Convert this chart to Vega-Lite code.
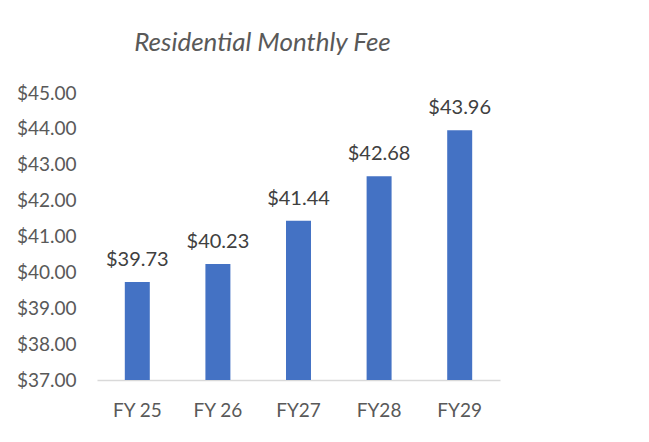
{
  "$schema": "https://vega.github.io/schema/vega-lite/v6.json",
  "autosize": {"type": "none"},
  "width": 403,
  "height": 287,
  "padding": {"left": 97, "top": 93, "right": 149, "bottom": 62},
  "background": "white",
  "config": {
    "font": "Lato",
    "view": {"stroke": null}
  },
  "title": {
    "text": "Residential Monthly Fee",
    "font": "Lato",
    "fontStyle": "italic",
    "fontWeight": "normal",
    "fontSize": 26,
    "color": "#595959",
    "anchor": "middle",
    "dx": -36,
    "offset": 28
  },
  "data": {
    "values": [
      {"year": "FY 25", "fee": 39.73},
      {"year": "FY 26", "fee": 40.23},
      {"year": "FY27", "fee": 41.44},
      {"year": "FY28", "fee": 42.68},
      {"year": "FY29", "fee": 43.96}
    ]
  },
  "encoding": {
    "x": {
      "field": "year",
      "type": "nominal",
      "sort": null,
      "scale": {"paddingInner": 0.69, "paddingOuter": 0.345},
      "axis": {
        "title": null,
        "labelAngle": 0,
        "labelFont": "Lato",
        "labelFontSize": 19,
        "labelColor": "#595959",
        "labelPadding": 21,
        "ticks": false,
        "domainColor": "#d9d9d9",
        "domainWidth": 1.5
      }
    },
    "y": {
      "field": "fee",
      "type": "quantitative",
      "scale": {"domain": [37, 45], "nice": false, "zero": false},
      "axis": {
        "title": null,
        "values": [37, 38, 39, 40, 41, 42, 43, 44, 45],
        "format": "$.2f",
        "labelFont": "Lato",
        "labelFontSize": 19,
        "labelColor": "#595959",
        "labelPadding": 21,
        "ticks": false,
        "domain": false,
        "grid": false
      }
    }
  },
  "layer": [
    {
      "mark": {"type": "bar", "color": "#4472C4", "clip": true},
      "encoding": {"y2": {"datum": 37}}
    },
    {
      "mark": {"type": "text", "baseline": "bottom", "dy": -12, "fontSize": 20, "color": "#404040", "font": "Lato"},
      "encoding": {"text": {"field": "fee", "type": "quantitative", "format": "$.2f"}}
    }
  ]
}
